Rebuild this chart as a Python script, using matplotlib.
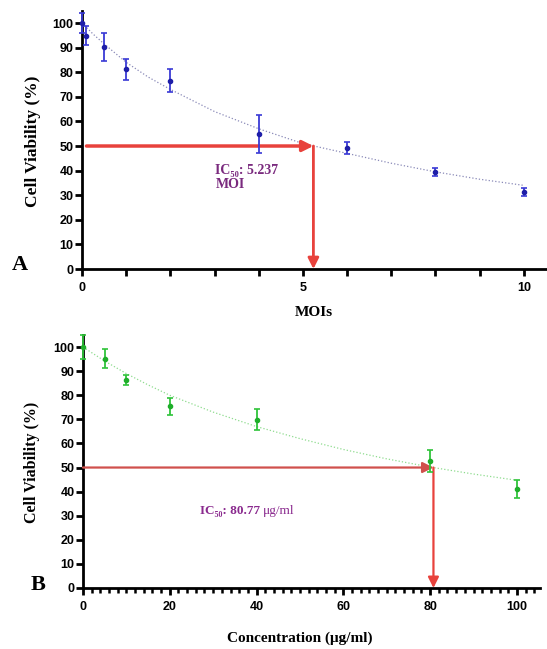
import matplotlib
matplotlib.use("Agg")
import matplotlib.pyplot as plt

# panel A: viability vs MOI
moi = [0, 0.1, 0.5, 1, 2, 4, 6, 8, 10]
via_a = [100, 94.9, 90.2, 81.2, 76.6, 54.9, 49.2, 39.4, 31.3]
err_a = [4.0, 3.7, 5.6, 4.3, 4.7, 7.7, 2.6, 1.7, 1.5]
# dotted fit line
fit_ax = [0, 0.25, 0.5, 1, 1.5, 2, 3, 4, 5, 6, 7, 8, 9, 10]
fit_ay = [100, 95.5, 91.5, 84, 78, 73, 64, 57, 51, 47, 43, 39.5, 36.5, 34]
ic50_a = 5.237

# panel B: viability vs concentration
conc = [0, 5, 10, 20, 40, 80, 100]
via_b = [100, 95.2, 86.3, 75.5, 69.8, 52.8, 41.0]
err_b = [5.0, 3.8, 1.9, 3.5, 4.3, 4.6, 3.7]
fit_bx = [0, 5, 10, 15, 20, 30, 40, 50, 60, 70, 80, 90, 100]
fit_by = [100, 94.2, 89, 84.3, 80, 73, 67, 62, 57.5, 53.6, 50.2, 47.3, 44.7]
ic50_b = 80.77

serif = ['Liberation Serif', 'DejaVu Serif']
sans = 'Liberation Sans'
purple = '#7a2a7e'
red = '#e8423c'

fig = plt.figure(figsize=(5.47, 6.49), dpi=100)
axA = fig.add_axes([0.150, 0.5855, 0.848, 0.398])
axB = fig.add_axes([0.1517, 0.094, 0.8353, 0.3898])


def style(ax):
    for s in ['top', 'right']:
        ax.spines[s].set_visible(False)
    for s in ['left', 'bottom']:
        ax.spines[s].set_linewidth(2)
    ax.tick_params(axis='both', which='major', width=2, length=5, pad=1,
                   labelsize=9)
    ax.tick_params(axis='x', which='major', pad=4.5)
    for lab in ax.get_xticklabels() + ax.get_yticklabels():
        lab.set_fontfamily(sans)
        lab.set_fontweight('bold')
    ax.set_ylim(0, 105)
    ax.set_yticks(range(0, 101, 10))


def labels(ax, xl, xpos, ypos, ysize):
    ax.set_xlabel(xl, family=serif, fontweight='bold', fontsize=11)
    ax.xaxis.label.set_va('center')
    ax.xaxis.set_label_coords(*xpos)
    ax.set_ylabel('Cell Viability (%)', family=serif, fontweight='bold',
                  fontsize=ysize)
    ax.yaxis.label.set_va('center')
    ax.yaxis.set_label_coords(*ypos)


# ---- A ----
axA.set_xlim(0, 10.5)
axA.set_xticks([0, 5, 10])
axA.set_xticks([1, 2, 3, 4, 6, 7, 8, 9], minor=True)
style(axA)
axA.tick_params(axis='x', which='minor', length=5, width=2)
axA.plot(fit_ax, fit_ay, ls=':', color='#8a8ab8', lw=0.9)
axA.errorbar(moi, via_a, yerr=err_a, fmt='o', ms=3, color='#1e1ea8',
             ecolor='#3a3ad6', elinewidth=1.3, capsize=2, capthick=1.2,
             clip_on=False, zorder=5)
axA.annotate('', xy=(ic50_a, 50), xytext=(0.1, 50),
             arrowprops=dict(arrowstyle='-|>', color=red, lw=2.5,
                             mutation_scale=16, shrinkA=0, shrinkB=0))
axA.annotate('', xy=(ic50_a, 0), xytext=(ic50_a, 50),
             arrowprops=dict(arrowstyle='-|>', color=red, lw=2,
                             mutation_scale=16, shrinkA=0, shrinkB=0))
axA.text(3.02, 37.3, 'IC₅₀: 5.237\nMOI', color=purple, fontsize=10,
         fontweight='bold', family=serif, ha='left', va='center',
         linespacing=1.05)
labels(axA, 'MOIs', (0.5, -0.168), (-0.1056, 0.494), 12.5)

# ---- B ----
axB.set_xlim(0, 105.3)
axB.set_xticks(range(0, 101, 20))
axB.set_xticks([v for v in range(0, 106, 2) if v % 20], minor=True)
style(axB)
axB.tick_params(axis='x', which='minor', length=3.5, width=1.8)
axB.plot(fit_bx, fit_by, ls=':', color='#8fdc8f', lw=0.9)
axB.errorbar(conc, via_b, yerr=err_b, fmt='o', ms=3, color='#1fae2a',
             ecolor='#2fc43a', elinewidth=1.3, capsize=2, capthick=1.2,
             clip_on=False, zorder=5)
axB.annotate('', xy=(ic50_b, 50), xytext=(0, 50),
             arrowprops=dict(arrowstyle='-|>', color='#d0504c', lw=1.6,
                             mutation_scale=16, shrinkA=0, shrinkB=0))
axB.annotate('', xy=(ic50_b, 0), xytext=(ic50_b, 50),
             arrowprops=dict(arrowstyle='-|>', color=red, lw=1.6,
                             mutation_scale=16, shrinkA=0, shrinkB=0))
t1 = axB.text(26.9, 32, 'IC₅₀: 80.77 ', color='#8a2a8e', fontsize=9.5,
              fontweight='bold', family=serif, ha='left', va='center')
axB.annotate('μg/ml', xy=(1, 0), xycoords=t1, color='#8a2a8e',
             fontsize=9.5, family=serif, ha='left', va='bottom')
labels(axB, 'Concentration (μg/ml)', (0.475, -0.198), (-0.1105, 0.496), 11.5)

fig.text(0.0366, 0.5917, 'A', family=serif, fontweight='bold', fontsize=16,
         ha='center', va='center')
fig.text(0.0695, 0.0986, 'B', family=serif, fontweight='bold', fontsize=16,
         ha='center', va='center')

fig.savefig('out.png', dpi=100)
